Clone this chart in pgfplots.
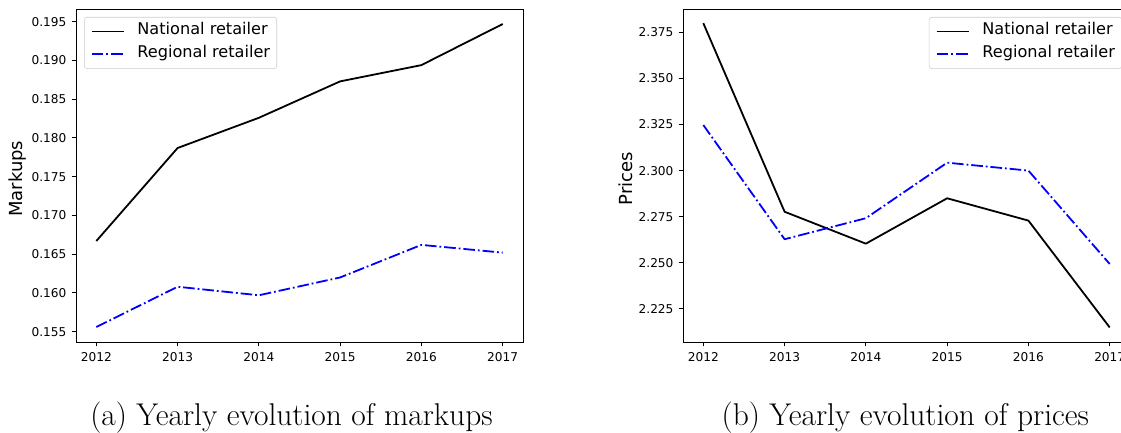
\documentclass[border=0pt]{standalone}
\usepackage{fontspec}
\usepackage{pgfplots}
\pgfplotsset{compat=1.18}
\newfontfamily\dejavu{DejaVu Sans}

\pgfplotsset{
  mystyle/.style={
    scale only axis, width=335.25pt, height=249.75pt,
    anchor=south west,
    axis line style={line width=0.73pt, black},
    tick align=outside,
    tick style={line width=0.73pt, black},
    major tick length=3.2pt,
    xtick pos=bottom, ytick pos=left,
    xmin=2011.75, xmax=2017.25,
    xtick={2012,2013,2014,2015,2016,2017},
    xticklabels={2012,2013,2014,2015,2016,2017},
    /pgf/number format/assume math mode=true,
    ticklabel style={font=\dejavu\fontsize{9.1}{11}\selectfont},
    yticklabel style={inner sep=0pt, xshift=-3.8pt,
      /pgf/number format/.cd, fixed, fixed zerofill, precision=3},
    xticklabel style={inner sep=0pt, yshift=-4.1pt},
    ylabel style={font=\dejavu\fontsize{13.5}{16}\selectfont, anchor=center},
    legend cell align=left,
    legend image code/.code={\draw[#1] (0pt,0pt) -- (24pt,0pt);},
    legend style={font=\dejavu\fontsize{12.1}{14}\selectfont,
      draw=black!20, rounded corners=2pt, fill=white,
      inner xsep=5pt, inner ysep=5.7pt, row sep=7.1pt,
      nodes={inner sep=0pt, text height=0.75em, text depth=0.25em, anchor=west},
      /tikz/every odd column/.append style={column sep=9.5pt}},
  },
  natl/.style={black, line width=1.35pt, line join=round},
  regl/.style={blue, line width=1.35pt, line join=round,
    dash pattern=on 8.7pt off 2.2pt on 1.35pt off 2.2pt},
}

\begin{document}
\begin{tikzpicture}
\useasboundingbox (0pt,0pt) rectangle (840.75pt,324pt);
\clip (0pt,0pt) rectangle (840.75pt,324pt);

\begin{axis}[mystyle, at={(57pt,67.5pt)},
  ymin=0.15367, ymax=0.19664,
  ytick={0.155,0.160,0.165,0.170,0.175,0.180,0.185,0.190,0.195},
  ylabel={Markups},
  ylabel style={at={(axis description cs:-0.131,0.49)}},
  legend style={at={(axis description cs:0.0179,0.976)}, anchor=north west},
]
\addplot[natl] coordinates {(2012,0.1667) (2013,0.1787) (2014,0.1826) (2015,0.1873) (2016,0.1894) (2017,0.1947)};
\addlegendentry{National retailer}
\addplot[regl] coordinates {(2012,0.1556) (2013,0.1608) (2014,0.1597) (2015,0.1620) (2016,0.1662) (2017,0.1652)};
\addlegendentry{Regional retailer}
\end{axis}

\begin{axis}[mystyle, at={(512.25pt,67.5pt)},
  ymin=2.2071, ymax=2.3876,
  ytick={2.225,2.250,2.275,2.300,2.325,2.350,2.375},
  ylabel={Prices},
  ylabel style={at={(axis description cs:-0.1286,0.49)}},
  legend style={at={(axis description cs:0.982,0.976)}, anchor=north east},
]
\addplot[natl] coordinates {(2012,2.3799) (2013,2.2777) (2014,2.2604) (2015,2.2850) (2016,2.2729) (2017,2.2150)};
\addlegendentry{National retailer}
\addplot[regl] coordinates {(2012,2.3247) (2013,2.2628) (2014,2.2742) (2015,2.3043) (2016,2.3000) (2017,2.2494)};
\addlegendentry{Regional retailer}
\end{axis}

\node[anchor=base, font=\fontsize{23.6}{28}\selectfont] at (218.6pt,5.25pt) {(a) Yearly evolution of markups};
\node[anchor=base, font=\fontsize{23.6}{28}\selectfont] at (679pt,5.25pt) {(b) Yearly evolution of prices};
\end{tikzpicture}
\end{document}
